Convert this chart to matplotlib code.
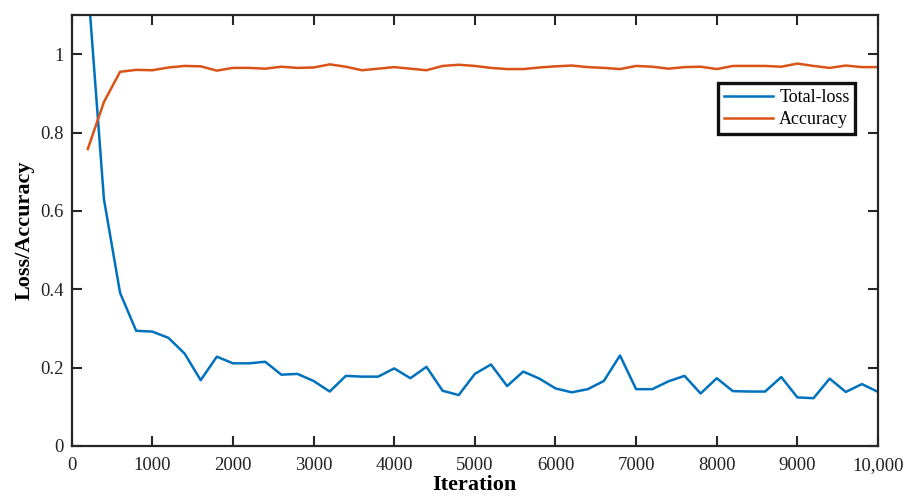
import matplotlib
matplotlib.use("Agg")
import matplotlib.pyplot as plt
import numpy as np

plt.rcParams["font.family"] = ["Liberation Serif", "DejaVu Serif"]

# --- data ----------------------------------------------------------------
iterations = np.arange(200, 10001, 200)

total_loss = [
    1.18, 0.63, 0.391, 0.294, 0.292, 0.276, 0.236, 0.168, 0.228, 0.211,
    0.211, 0.215, 0.182, 0.184, 0.166, 0.139, 0.179, 0.177, 0.177, 0.198,
    0.173, 0.202, 0.141, 0.130, 0.184, 0.208, 0.153, 0.190, 0.172, 0.147,
    0.137, 0.145, 0.166, 0.231, 0.145, 0.145, 0.165, 0.179, 0.134, 0.173,
    0.140, 0.139, 0.139, 0.176, 0.124, 0.122, 0.172, 0.138, 0.158, 0.138,
]

accuracy = [
    0.758, 0.878, 0.955, 0.960, 0.959, 0.966, 0.970, 0.969, 0.958, 0.965,
    0.965, 0.963, 0.968, 0.965, 0.966, 0.974, 0.968, 0.959, 0.963, 0.967,
    0.963, 0.959, 0.970, 0.973, 0.970, 0.965, 0.962, 0.962, 0.966, 0.969,
    0.971, 0.967, 0.965, 0.962, 0.970, 0.968, 0.963, 0.967, 0.968, 0.962,
    0.970, 0.970, 0.970, 0.968, 0.976, 0.970, 0.965, 0.971, 0.967, 0.967,
]

x_ticks = [0, 1000, 2000, 3000, 4000, 5000, 6000, 7000, 8000, 9000, 10000]
x_labels = ["0", "1000", "2000", "3000", "4000", "5000", "6000", "7000",
            "8000", "9000", "10,000"]
y_ticks = [0, 0.2, 0.4, 0.6, 0.8, 1.0]
y_labels = ["0", "0.2", "0.4", "0.6", "0.8", "1"]

# --- figure ----------------------------------------------------------------
fig = plt.figure(figsize=(9.05, 5.0), dpi=100)
ax = fig.add_axes([0.0792, 0.108, 0.891, 0.862])

ax.plot(iterations, total_loss, color="#0072BD", lw=1.8, label="Total-loss")
ax.plot(iterations, accuracy, color="#D95319", lw=1.8, label="Accuracy")

ax.set_xlim(0, 10000)
ax.set_ylim(0, 1.1)
ax.set_xticks(x_ticks)
ax.set_xticklabels(x_labels)
ax.set_yticks(y_ticks)
ax.set_yticklabels(y_labels)

ax.tick_params(direction="in", length=7, width=1.5, labelsize=13.5,
               top=True, right=True, colors="#262626", labelcolor="#222222")
ax.tick_params(axis="x", pad=8)
ax.tick_params(axis="y", pad=6)
for s in ax.spines.values():
    s.set_linewidth(1.6)
    s.set_color("#262626")

ax.set_xlabel("Iteration", fontsize=16, fontweight="bold", labelpad=1)
ax.set_ylabel("Loss/Accuracy", fontsize=16, fontweight="bold", labelpad=4)

leg = ax.legend(loc="upper right", bbox_to_anchor=(0.972, 0.842), fontsize=13,
                frameon=True, fancybox=False, framealpha=1, handlelength=2.7,
                borderpad=0.32, labelspacing=0.3, handletextpad=0.35,
                borderaxespad=0)
leg.get_frame().set_edgecolor("#111111")
leg.get_frame().set_linewidth(2.4)

fig.savefig("out.png", dpi=100)
